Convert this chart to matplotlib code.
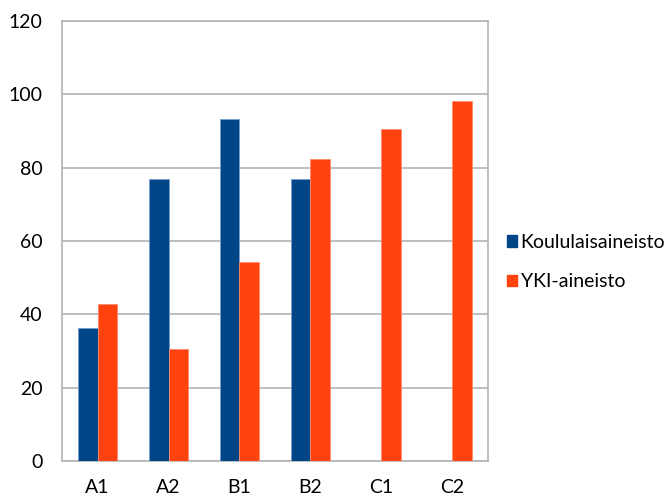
import matplotlib
matplotlib.use("Agg")
import matplotlib.pyplot as plt
import numpy as np
from matplotlib.patches import Patch

categories = ["A1", "A2", "B1", "B2", "C1", "C2"]
koulu = [36.3, 76.8, 93.2, 76.8, np.nan, np.nan]
yki = [42.8, 30.5, 54.3, 82.5, 90.5, 98.3]
series_names = ["Koululaisaineisto", "YKI-aineisto"]
yticks = [0, 20, 40, 60, 80, 100, 120]

plt.rcParams['font.family'] = ['Lato', 'DejaVu Sans']

blue = "#004586"
orange = "#ff420e"
grid = "#b3b3b3"
fs = 14

fig = plt.figure(figsize=(6.69, 4.98), dpi=100)
ax = fig.add_axes([62/669, 37/498, 426/669, 440/498])

x = np.arange(len(categories))
w = 0.28
ax.bar(x - w/2, koulu, w, color=blue, edgecolor="#729fcf", linewidth=0.6, zorder=3)
ax.bar(x + w/2, yki, w, color=orange, edgecolor="#ff8a6a", linewidth=0.6, zorder=3)

ax.set_xlim(-0.5, len(categories) - 0.5)
ax.set_ylim(0, 120)
ax.set_yticks(yticks)
ax.set_xticks(x)
ax.set_xticklabels(categories)
ax.yaxis.grid(True, color=grid, linewidth=1.2, zorder=0)
for s in ax.spines.values():
    s.set_color(grid)
    s.set_linewidth(1.2)
ax.tick_params(axis='y', length=0, labelsize=fs, pad=14)
ax.tick_params(axis='x', length=0, labelsize=fs, pad=13)

handles = [Patch(color=blue), Patch(color=orange)]
fig.legend(handles, series_names, loc="center left", bbox_to_anchor=(507/669, 1 - 262/498),
           frameon=False, fontsize=fs, handlelength=0.52, handleheight=0.52,
           handletextpad=0.18, labelspacing=1.15, borderpad=0, borderaxespad=0)

fig.savefig("out.png", dpi=100)
